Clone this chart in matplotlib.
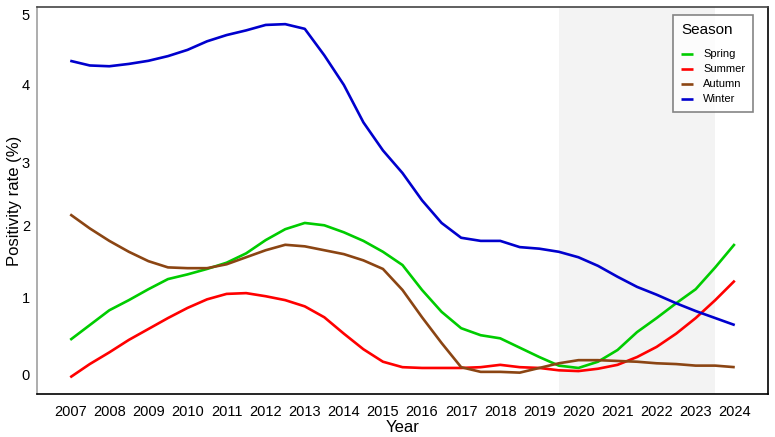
import numpy as np
import matplotlib
matplotlib.use('Agg')
from matplotlib import pyplot as plt

plt.rcParams['font.family'] = ['Liberation Sans', 'DejaVu Sans']

# values every half year, 2007 - 2024
years = np.arange(2007, 2024.01, 0.5)
spring = [0.45, 0.64, 0.83, 0.96, 1.10, 1.23, 1.29, 1.36, 1.44, 1.56, 1.73, 1.87,
          1.95, 1.92, 1.83, 1.72, 1.58, 1.41, 1.09, 0.81, 0.60, 0.51, 0.47, 0.35,
          0.23, 0.12, 0.09, 0.17, 0.32, 0.55, 0.73, 0.92, 1.10, 1.38, 1.68]
summer = [-0.03, 0.14, 0.29, 0.45, 0.59, 0.73, 0.86, 0.97, 1.04, 1.05, 1.01, 0.96,
          0.88, 0.74, 0.53, 0.33, 0.17, 0.10, 0.09, 0.09, 0.09, 0.10, 0.13, 0.10,
          0.09, 0.06, 0.05, 0.08, 0.13, 0.23, 0.36, 0.53, 0.73, 0.96, 1.21]
autumn = [2.06, 1.88, 1.72, 1.58, 1.46, 1.38, 1.37, 1.37, 1.42, 1.51, 1.60, 1.67,
          1.65, 1.60, 1.55, 1.47, 1.36, 1.09, 0.74, 0.41, 0.10, 0.04, 0.04, 0.03,
          0.09, 0.15, 0.19, 0.19, 0.18, 0.17, 0.15, 0.14, 0.12, 0.12, 0.10]
winter = [4.03, 3.97, 3.96, 3.99, 4.03, 4.09, 4.17, 4.28, 4.36, 4.42, 4.49, 4.50,
          4.44, 4.10, 3.72, 3.24, 2.88, 2.59, 2.24, 1.95, 1.76, 1.72, 1.72, 1.64,
          1.62, 1.58, 1.51, 1.40, 1.26, 1.13, 1.03, 0.92, 0.82, 0.73, 0.64]

seasons = ['Spring', 'Summer', 'Autumn', 'Winter']
colors = ['#00cc00', '#ff0000', '#8b4513', '#0000cd']
series = [spring, summer, autumn, winter]

year_ticks = list(range(2007, 2025))
ytick_pos = [0, 1, 1.92, 2.72, 3.72, 4.62]
ytick_labels = ['0', '1', '2', '3', '4', '5']

fig = plt.figure(figsize=(7.75, 4.37), dpi=100)
ax = fig.add_axes([37 / 775, 1 - 394 / 437, 731 / 775, 387 / 437])

ax.axvspan(2019.5, 2023.5, color='#f3f3f3', lw=0, zorder=0)

for name, vals, c in zip(seasons, series, colors):
    ax.plot(years, vals, color=c, lw=1.9, label=name, solid_capstyle='butt')

ax.set_xlim(2006.15, 2024.85)
ax.set_ylim(-0.244, 4.72)
ax.set_xticks(year_ticks)
ax.set_xticklabels([str(y) for y in year_ticks])
ax.set_yticks(ytick_pos)
ax.set_yticklabels(ytick_labels)
ax.tick_params(axis='both', length=0, labelsize=10.5, colors='black')
ax.tick_params(axis='x', pad=8)
ax.tick_params(axis='y', pad=5)

ax.set_xlabel('Year', fontsize=12, labelpad=1)
ax.set_ylabel('Positivity rate (%)', fontsize=12, labelpad=0)

ax.spines['left'].set_color('#a0a0a0')
ax.spines['top'].set_color('#444444')
ax.spines['right'].set_color('black')
ax.spines['bottom'].set_color('black')
for s in ax.spines.values():
    s.set_linewidth(1.2)

leg = ax.legend(title='Season', loc='upper right', bbox_to_anchor=(0.9795, 0.979),
                borderaxespad=0, fontsize=8, title_fontsize=11, handlelength=1.1,
                handletextpad=0.9, labelspacing=0.45, borderpad=0.7,
                fancybox=False, alignment='left')
leg._legend_box.sep = 9
leg.get_frame().set_edgecolor('#666666')
leg.get_frame().set_linewidth(1.2)

plt.savefig('out.png', dpi=100)
